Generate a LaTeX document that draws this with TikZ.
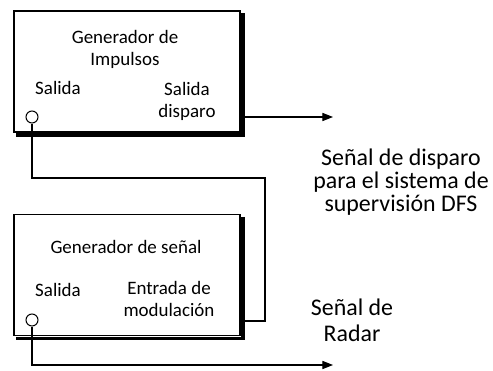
\documentclass[tikz,border=0pt]{standalone}
\usepackage{fontspec}
\setmainfont{Carlito}
\usetikzlibrary{calc, arrows.meta}

\begin{document}
\begin{tikzpicture}[x=0.02cm, y=-0.02cm,
    box/.style={draw, line width=0.6pt, minimum width=226*0.02cm,
      minimum height=121*0.02cm, inner sep=0pt},
    boxshade/.style={line width=1.9pt},
    port/.style={draw, circle, fill=white, line width=0.6pt,
      minimum size=12*0.02cm, inner sep=0pt},
    wire/.style={line width=0.6pt},
    sig/.style={wire, -{Triangle[length=6pt, width=4.6pt]}},
    small/.style={font=\fontsize{10.8}{12.5}\selectfont, align=center, inner sep=0pt},
    big/.style={font=\fontsize{13.6}{13.3}\selectfont, align=center, inner sep=0pt}]

  \useasboundingbox (0,0) rectangle (493,371);

  % generador de impulsos
  \node[box] (imp) at (127,71.5) {};
  \draw[boxshade] ($(imp.north east)+(2.5,3)$) |- ($(imp.south west)+(3,2.5)$);
  \node[small] (impname) at (125,49) {Generador de\\Impulsos};
  \node[small] (impsal) at (58,88) {Salida};
  \node[small] (impdisp) at (187,101) {Salida\\disparo};
  \node[port] (impout) at (32,117) {};

  % generador de senal
  \node[box] (sen) at (127,275) {};
  \draw[boxshade] ($(sen.north east)+(2.5,3)$) |- ($(sen.south west)+(3,2.5)$);
  \node[small] (senname) at (126,247) {Generador de señal};
  \node[small] (sensal) at (58,290) {Salida};
  \node[small] (senmod) at (169,299) {Entrada de\\modulación};
  \node[port] (senout) at (32,320) {};

  % conexiones
  \coordinate (loopa) at (265,178);
  \coordinate (loopb) at (265,321);
  \coordinate (trig) at (333,117);
  \coordinate (radar) at (333,365);

  \draw[wire] (impout.south) |- (loopa) -- (loopb) -- (loopb -| sen.east);
  \draw[sig] (trig -| imp.east) -- (trig);
  \draw[sig] (senout.south) |- (radar);

  \node[big] (trigtxt) at (401,182) {Señal de disparo\\para el sistema de\\supervisión DFS};
  \node[big, font=\fontsize{13.6}{14.8}\selectfont] (radtxt) at (352,320) {Señal de\\Radar};
\end{tikzpicture}
\end{document}
